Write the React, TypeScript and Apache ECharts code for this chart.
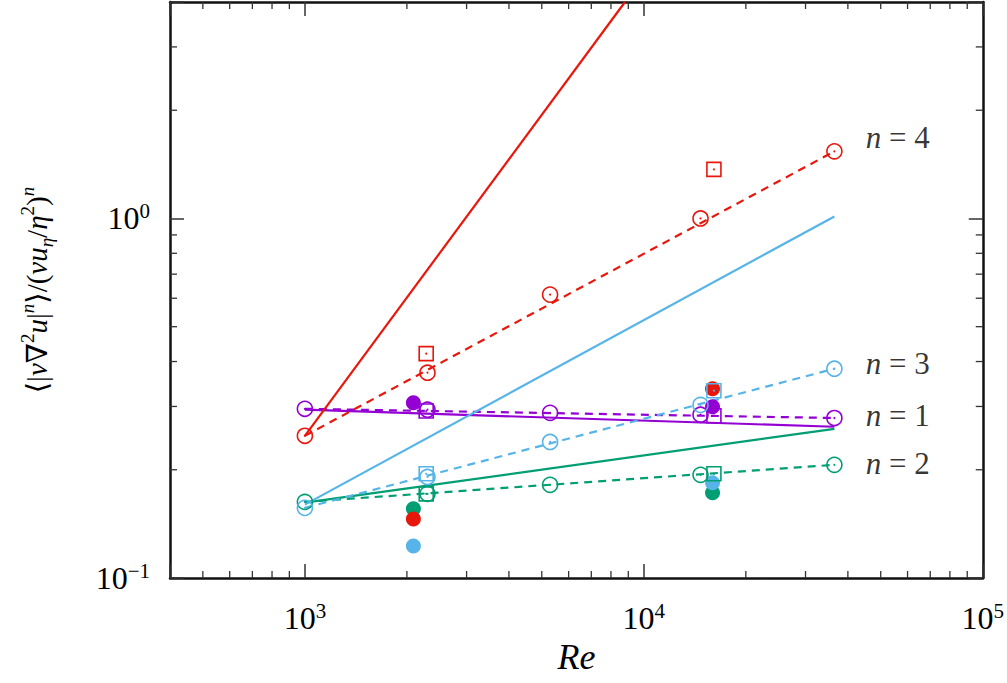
import React, { useEffect, useRef } from 'react';
import * as echarts from 'echarts';

// ---------------- data ----------------
const openRe = [1000, 2300, 5290, 14700, 36500];
const n1Open = [0.2955, 0.2938, 0.288, 0.2845, 0.2786];
const n2Open = [0.1628, 0.1714, 0.1816, 0.1936, 0.2064];
const n3Open = [0.1567, 0.191, 0.239, 0.303, 0.382];
const n4Open = [0.2486, 0.3724, 0.614, 1.0, 1.537];

const squareRe = [2280, 16100];
const n1Sq = [0.2913, 0.2827];
const n2Sq = [0.1714, 0.1949];
const n3Sq = [0.1949, 0.3318];
const n4Sq = [0.4207, 1.369];

const filledRe = [2090, 15950];
const n1Filled = [0.3073, 0.2995];
const n2Filled = [0.1557, 0.1725];
const n3Filled = [0.1228, 0.1839];
const n4Filled = [0.146, 0.336];

const fitRe = [1000, 36500];
const n1Fit = [0.2955, 0.2786];
const n2Fit = [0.1628, 0.2064];
const n3Fit = [0.1567, 0.382];
const n4Fit = [0.2486, 1.537];

const solidRe = [1000, 36500];
const n1Solid = [0.2938, 0.2634];
const n2Solid = [0.162, 0.26];
const n3Solid = [0.16, 1.013];
const n4SolidRe = [1000, 8800];
const n4Solid = [0.2486, 4.0];

const labelRe = 45000;
const labelNames = ['4', '3', '1', '2'];
const labelValues = [1.68, 0.395, 0.2826, 0.2077];

const xMinorTicks = [500, 600, 700, 800, 900, 2000, 3000, 4000, 5000, 6000, 7000, 8000, 9000,
  20000, 30000, 40000, 50000, 60000, 70000, 80000, 90000];
const yMinorTicks = [0.2, 0.3, 0.4, 0.5, 0.6, 0.7, 0.8, 0.9, 2, 3];

// ---------------- style ----------------
const FONT = '"Liberation Serif", "Times New Roman", "DejaVu Serif", serif';
const RED = '#e8170c';
const PURPLE = '#9400d3';
const BLUE = '#56b4e9';
const GREEN = '#009e73';
const AXIS = '#111';
const TICK = '#333';

const zip = (xs: number[], ys: number[]) => xs.map((x, i) => [x, ys[i]]);

const powLabel = (v: number) => {
  const e = Math.log10(v);
  const r = Math.round(e);
  if (Math.abs(e - r) > 1e-6) return '';
  return `{b|10}{s|${r < 0 ? '−' : ''}${Math.abs(r)}}`;
};

const tickRich = {
  b: { fontSize: 32, fontFamily: FONT, color: '#000', lineHeight: 36 },
  s: { fontSize: 21, fontFamily: FONT, color: '#000', lineHeight: 21, verticalAlign: 'top' },
};

const groups = [
  { color: PURPLE, open: n1Open, sq: n1Sq, filled: n1Filled, fit: n1Fit, solidX: solidRe, solid: n1Solid },
  { color: GREEN, open: n2Open, sq: n2Sq, filled: n2Filled, fit: n2Fit, solidX: solidRe, solid: n2Solid },
  { color: BLUE, open: n3Open, sq: n3Sq, filled: n3Filled, fit: n3Fit, solidX: solidRe, solid: n3Solid },
  { color: RED, open: n4Open, sq: n4Sq, filled: n4Filled, fit: n4Fit, solidX: n4SolidRe, solid: n4Solid },
];

function buildOption() {
  const series: any[] = [];
  groups.forEach((g) => {
    series.push({
      type: 'line', data: zip(g.solidX, g.solid), symbol: 'none', silent: true, z: 2,
      lineStyle: { color: g.color, width: 2.2 }, emphasis: { disabled: true },
    });
    series.push({
      type: 'line', data: zip(fitRe, g.fit), symbol: 'none', silent: true, z: 2,
      lineStyle: { color: g.color, width: 2.2, type: [8, 6] }, emphasis: { disabled: true },
    });
  });
  groups.forEach((g) => {
    series.push({
      type: 'scatter', data: zip(filledRe, g.filled), symbol: 'circle', symbolSize: 15, silent: true, z: 3,
      itemStyle: { color: g.color, opacity: 1 }, emphasis: { disabled: true },
    });
  });
  groups.forEach((g) => {
    series.push({
      type: 'scatter', data: zip(openRe, g.open), symbol: 'circle', symbolSize: 15, silent: true, z: 4,
      itemStyle: { color: 'rgba(0,0,0,0)', borderColor: g.color, borderWidth: 1.6, opacity: 1 },
      emphasis: { disabled: true },
    });
    series.push({
      type: 'scatter', data: zip(squareRe, g.sq), symbol: 'rect', symbolSize: 14, silent: true, z: 4,
      itemStyle: { color: 'rgba(0,0,0,0)', borderColor: g.color, borderWidth: 1.6, opacity: 1 },
      emphasis: { disabled: true },
    });
    series.push({
      type: 'scatter', data: zip(openRe, g.open).concat(zip(squareRe, g.sq)), symbol: 'circle',
      symbolSize: 2, silent: true, z: 4, itemStyle: { color: g.color, opacity: 1 }, emphasis: { disabled: true },
    });
  });
  // n = ... labels
  series.push({
    type: 'scatter', silent: true, z: 5, symbolSize: 1,
    itemStyle: { color: 'rgba(0,0,0,0)' },
    data: labelValues.map((v, i) => ({ value: [labelRe, v], name: labelNames[i] })),
    label: {
      show: true, position: 'right', distance: 0,
      formatter: (p: any) => `{i|n}{t| = ${p.name}}`,
      rich: {
        i: { fontSize: 31, fontFamily: FONT, fontStyle: 'italic', color: '#000' },
        t: { fontSize: 31, fontFamily: FONT, color: '#000' },
      },
    },
    emphasis: { disabled: true },
  });
  // minor ticks
  series.push({
    type: 'custom', silent: true, z: 6, clip: false,
    data: xMinorTicks.map((v) => [v, 1]),
    renderItem: (params: any, api: any) => {
      const cs = params.coordSys;
      const px = api.coord([api.value(0), 1])[0];
      const st = { stroke: TICK, lineWidth: 1.3 };
      return {
        type: 'group',
        children: [
          { type: 'line', shape: { x1: px, y1: cs.y + cs.height, x2: px, y2: cs.y + cs.height - 7 }, style: st },
          { type: 'line', shape: { x1: px, y1: cs.y, x2: px, y2: cs.y + 7 }, style: st },
        ],
      };
    },
  });
  series.push({
    type: 'custom', silent: true, z: 6, clip: false,
    data: yMinorTicks.map((v) => [1000, v]),
    renderItem: (params: any, api: any) => {
      const cs = params.coordSys;
      const py = api.coord([1000, api.value(1)])[1];
      const st = { stroke: TICK, lineWidth: 1.3 };
      return {
        type: 'group',
        children: [
          { type: 'line', shape: { x1: cs.x, y1: py, x2: cs.x + 7, y2: py }, style: st },
          { type: 'line', shape: { x1: cs.x + cs.width, y1: py, x2: cs.x + cs.width - 7, y2: py }, style: st },
        ],
      };
    },
  });

  const axisLine = { show: true, onZero: false, lineStyle: { color: AXIS, width: 2.5 } };
  const axisTick = { show: true, inside: true, length: 14, lineStyle: { color: TICK, width: 1.5 } };

  const yName =
    '{t|⟨|}{i|ν}{t|∇}{p|2}{i|u}{t||}{pn|n}{t|⟩/(}{i|νu}{q|η}{t|/}{i|η}{p|2}{t|)}{pn|n}';

  return {
    animation: false,
    backgroundColor: '#fff',
    grid: { left: 170, right: 23, top: 2, bottom: 105 },
    xAxis: [
      {
        type: 'log', logBase: 10, min: 400, max: 100000, position: 'bottom',
        axisLine, axisTick, splitLine: { show: false }, minorTick: { show: false },
        axisLabel: { formatter: powLabel, margin: 22, rich: tickRich, showMinLabel: true },
        name: 'Re', nameLocation: 'middle', nameGap: 60,
        nameTextStyle: { fontSize: 36, fontFamily: FONT, fontStyle: 'italic', color: '#000' },
      },
      {
        type: 'log', logBase: 10, min: 400, max: 100000, position: 'top',
        axisLine, axisTick, splitLine: { show: false }, axisLabel: { show: false },
      },
    ],
    yAxis: [
      {
        type: 'log', logBase: 10, min: 0.1, max: 4, position: 'left',
        axisLine, axisTick, splitLine: { show: false }, minorTick: { show: false },
        axisLabel: { formatter: powLabel, margin: 20, rich: tickRich },
        name: yName, nameLocation: 'middle', nameRotate: 90, nameGap: 114,
        nameTextStyle: {
          rich: {
            t: { fontSize: 29, fontFamily: FONT, color: '#000', lineHeight: 38 },
            i: { fontSize: 29, fontFamily: FONT, fontStyle: 'italic', color: '#000', lineHeight: 38 },
            p: { fontSize: 19, fontFamily: FONT, color: '#000', lineHeight: 19, verticalAlign: 'top' },
            pn: { fontSize: 19, fontFamily: FONT, fontStyle: 'italic', color: '#000', lineHeight: 19, verticalAlign: 'top' },
            q: { fontSize: 19, fontFamily: FONT, fontStyle: 'italic', color: '#000', lineHeight: 19, verticalAlign: 'bottom' },
          },
        },
      },
      {
        type: 'log', logBase: 10, min: 0.1, max: 4, position: 'right',
        axisLine, axisTick, splitLine: { show: false }, axisLabel: { show: false },
      },
    ],
    series,
  };
}

export default function App() {
  const ref = useRef<HTMLDivElement>(null);
  useEffect(() => {
    if (!ref.current) return;
    const chart = echarts.init(ref.current, null, { renderer: 'svg' });
    chart.setOption(buildOption() as any);
    return () => chart.dispose();
  }, []);
  return (
    <div
      ref={ref}
      style={{ position: 'absolute', left: 0, top: 0, width: 1007, height: 683, background: '#fff' }}
    />
  );
}
